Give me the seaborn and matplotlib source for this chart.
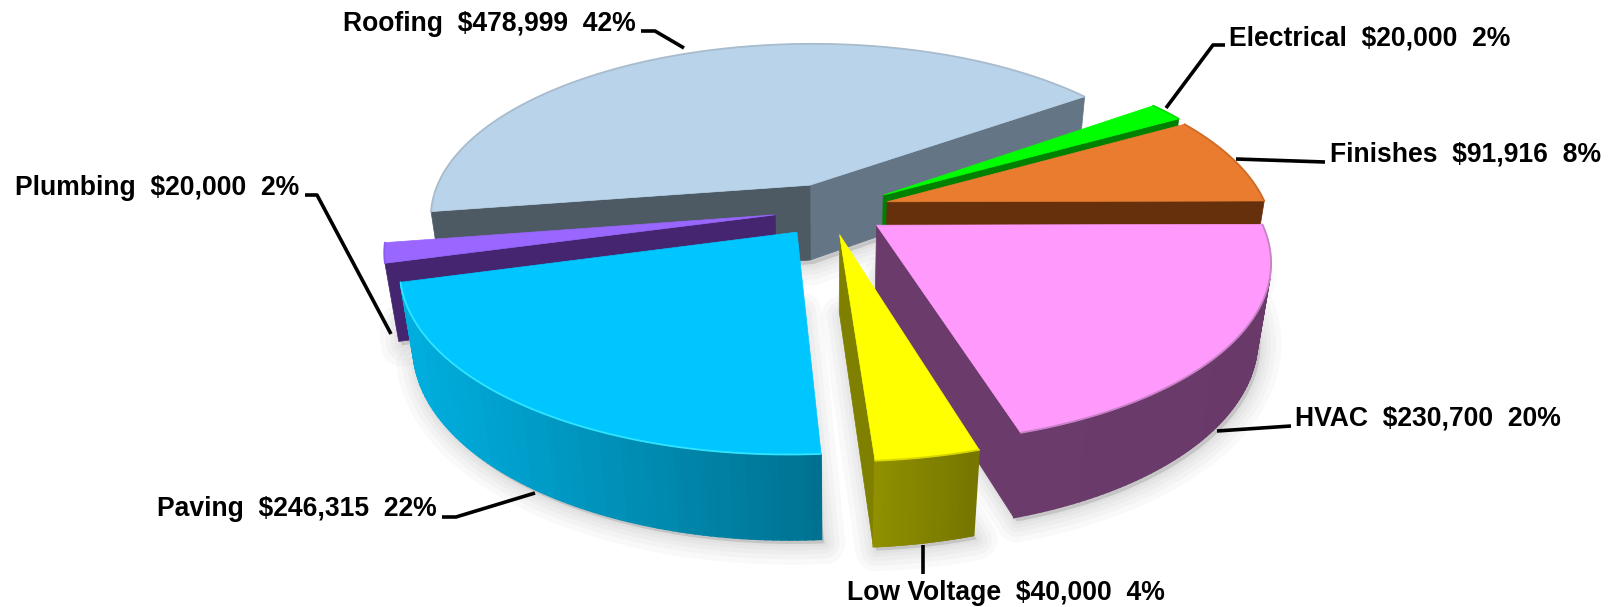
import numpy as np
import seaborn as sns
import matplotlib.pyplot as plt
from matplotlib.patches import Polygon

# values, counter clockwise from the roofing start edge
categories = ['Roofing', 'Plumbing', 'Paving', 'Low Voltage', 'HVAC', 'Finishes', 'Electrical']
amounts = [478999, 20000, 246315, 40000, 230700, 91916, 20000]

# style
top_colors = ['#b9d3ea', '#9966ff', '#00c6ff', '#ffff00', '#ff99fb', '#e97c2f', '#00ff00']
rim_left = ['#55636e', '#45256f', '#00aede', '#909000', '#6b3b6b', '#66300c', '#008000']
rim_right = ['#55636e', '#45256f', '#00708f', '#757500', '#693a69', '#66300c', '#008000']
edge_colors = ['#a9bccd', '#8a5cf0', '#30e4ff', '#d8d800', '#c880c8', '#d06a25', '#00e000']
wall_start = ['#647585', '#45256f', '#008fb5', '#808000', '#6b3b6b', '#66300c', '#008000']
wall_end = ['#4d5a64', '#45256f', '#008fb5', '#808000', '#6b3b6b', '#66300c', '#008000']
explode = [0.12, 0.16, 0.16, 0.18, 0.15, 0.14, 0.15]
nudge = [(-6, -2), (2, 3), (0, 3), (-6, -3), (-3, 3.5), (3, 2), (3, 3)]
draw_order = ['Roofing', 'Electrical', 'Finishes', 'Plumbing', 'HVAC', 'Paving', 'Low Voltage']

START = 36
CX, CY, RX, RY = 833, 206, 380, 173
K, KZ, DEPTH = 0.18, 0.03, 78

label_pos = {'Roofing': (343, 24), 'Electrical': (1229, 38), 'Finishes': (1330, 154), 'HVAC': (1295, 419),
             'Low Voltage': (847, 593), 'Paving': (157, 509), 'Plumbing': (15, 188)}
leaders = {'Roofing': [(641, 31), (655, 31), (684, 48)],
           'Electrical': [(1225, 45), (1213, 45), (1166, 108)],
           'Finishes': [(1325, 162), (1236, 159)],
           'HVAC': [(1291, 426), (1217, 431)],
           'Low Voltage': [(923, 574), (923, 545)],
           'Paving': [(442, 517), (456, 517), (535, 493)],
           'Plumbing': [(305, 195), (317, 195), (391, 334)]}


def project(u, v, z=0.0):
    s = 1 / (1 - K * v + KZ * z)
    return CX + RX * u * s, CY + RY * v * s + DEPTH * z * s


def area(pts):
    p = np.array(pts)
    return 0.5 * np.sum(p[:, 0] * np.roll(p[:, 1], -1) - np.roll(p[:, 0], -1) * p[:, 1])


sns.set_theme(style='white')
plt.rcParams['font.family'] = ['Liberation Sans', 'DejaVu Sans']

fig = plt.figure(figsize=(16.13, 6.07), dpi=100)
ax = fig.add_axes([0, 0, 1, 1])
ax.set_xlim(0, 1613)
ax.set_ylim(607, 0)
ax.axis('off')

total = sum(amounts)
sweeps = np.array(amounts) / total * 360
starts = START + np.concatenate([[0], np.cumsum(sweeps)[:-1]])

slices = {}
for i, name in enumerate(categories):
    a0, a1 = starts[i], starts[i] + sweeps[i]
    mid = np.radians((a0 + a1) / 2)
    ou, ov = explode[i] * np.cos(mid), -explode[i] * np.sin(mid)
    th = np.radians(np.linspace(a0, a1, 80))
    us, vs = ou + np.cos(th), ov - np.sin(th)
    slices[name] = (i, ou, ov, us, vs)


def place(i, u, v, z=0.0):
    x, y = project(u, v, z)
    return x + nudge[i][0], y + nudge[i][1]


# soft shadow below the slices
for name in draw_order:
    i, ou, ov, us, vs = slices[name]
    base = [place(i, ou, ov, 1)] + [place(i, u, v, 1) for u, v in zip(us, vs)]
    base = [(x + 3, y + 4) for x, y in base]
    for lw in [30, 22, 15, 9, 4]:
        ax.add_patch(Polygon(base, closed=True, fc='#000000', ec='#000000', lw=lw, alpha=0.022,
                             joinstyle='round', zorder=1))

for n, name in enumerate(draw_order):
    i, ou, ov, us, vs = slices[name]
    zo = 2 + n
    apex_t, apex_b = place(i, ou, ov, 0), place(i, ou, ov, 1)
    # side walls at both straight edges
    for j, col in [(0, wall_start[i]), (-1, wall_end[i])]:
        q = [apex_t, place(i, us[j], vs[j], 0), place(i, us[j], vs[j], 1), apex_b]
        if (area(q) > 0) == (j == 0):
            ax.add_patch(Polygon(q, closed=True, fc=col, ec=col, lw=0.5, zorder=zo))
    # outer wall, shaded from left to right
    ramp = sns.blend_palette([rim_left[i], rim_right[i]], 40)
    x_top = np.array([place(i, u, v, 0)[0] for u, v in zip(us, vs)])
    for k in range(len(us) - 1):
        q = [place(i, us[k], vs[k], 0), place(i, us[k + 1], vs[k + 1], 0),
             place(i, us[k + 1], vs[k + 1], 1), place(i, us[k], vs[k], 1)]
        if area(q) > 0:
            pos = (x_top[k] - x_top.min()) / max(x_top.max() - x_top.min(), 1)
            c = ramp[int(pos * 39)]
            ax.add_patch(Polygon(q, closed=True, fc=c, ec=c, lw=1.2, zorder=zo))
    # top face
    top = [apex_t] + [place(i, u, v, 0) for u, v in zip(us, vs)]
    ax.add_patch(Polygon(top, closed=True, fc=top_colors[i], ec=top_colors[i], lw=0.5, zorder=zo))
    rim = np.array(top[1:])
    ax.plot(rim[:, 0], rim[:, 1], color=edge_colors[i], lw=1.3, zorder=zo, solid_capstyle='round')

for i, name in enumerate(categories):
    pct = amounts[i] / total * 100
    x, y = label_pos[name]
    ax.text(x, y, f'{name}  ${amounts[i]:,}  {pct:.0f}%', fontsize=19.1, fontweight='bold',
            color='black', ha='left', va='center', zorder=20)
    pts = np.array(leaders[name])
    ax.plot(pts[:, 0], pts[:, 1], color='black', lw=2.6, zorder=20, solid_capstyle='butt')

fig.savefig('out.png', dpi=100, facecolor='white')
